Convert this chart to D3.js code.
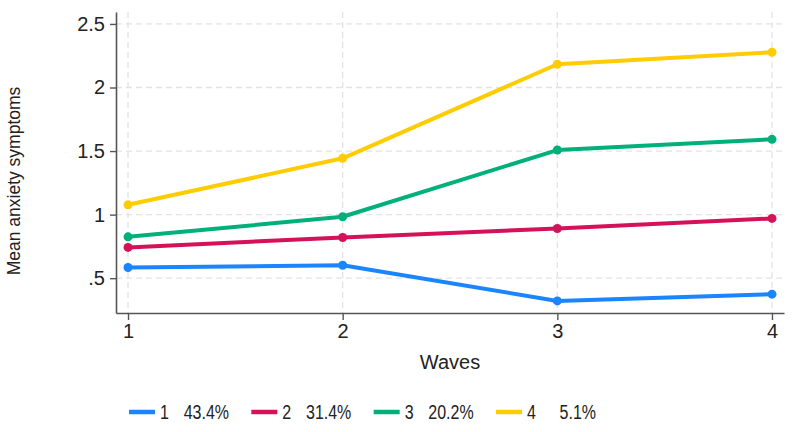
<!DOCTYPE html>
<html>
<head>
<meta charset="utf-8">
<script src="https://cdn.jsdelivr.net/npm/d3@7"></script>
<style>
  body { margin: 0; background: #fff; }
  text { font-family: Arial, "Liberation Sans", Helvetica, sans-serif; fill: #222; }
</style>
</head>
<body>
<svg id="chart"></svg>
<script>
var width = 794
var height = 432

// data
var waves = [1, 2, 3, 4]
var classNames = ["1", "2", "3", "4"]
var classShares = ["43.4%", "31.4%", "20.2%", "5.1%"]
var class1 = [0.584, 0.602, 0.321, 0.374]
var class2 = [0.742, 0.820, 0.891, 0.970]
var class3 = [0.825, 0.983, 1.508, 1.592]
var class4 = [1.077, 1.443, 2.183, 2.277]
var yTicks = [0.5, 1, 1.5, 2, 2.5]
var yTickLabels = [".5", "1", "1.5", "2", "2.5"]

var colors = ["#1a85ff", "#d41159", "#00b07a", "#ffcc00"]
var series = [class1, class2, class3, class4]

var svg = d3.select("#chart")
    .attr("width", width)
    .attr("height", height)

var x = d3.scaleLinear()
    .domain([0.944, 4.056])
    .range([116, 784])

var y = d3.scaleLinear()
    .domain([0.226, 2.594])
    .range([313, 12])

// grid
var grid = svg.append("g")
grid.selectAll(".hgrid")
    .data(yTicks)
    .enter()
    .append("line")
        .attr("x1", x.range()[0])
        .attr("x2", x.range()[1])
        .attr("y1", d => y(d))
        .attr("y2", d => y(d))
        .attr("stroke", "#e3e3e3")
        .attr("stroke-width", 1.3)
        .attr("stroke-dasharray", "6,4")
grid.selectAll(".vgrid")
    .data(waves)
    .enter()
    .append("line")
        .attr("x1", d => x(d))
        .attr("x2", d => x(d))
        .attr("y1", y.range()[1])
        .attr("y2", y.range()[0])
        .attr("stroke", "#e3e3e3")
        .attr("stroke-width", 1.3)
        .attr("stroke-dasharray", "6,4")

// axes
var yAxis = svg.append("g")
    .attr("transform", "translate(116,0)")
    .call(d3.axisLeft(y)
        .tickValues(yTicks)
        .tickFormat((d, i) => yTickLabels[i])
        .tickSize(6)
        .tickSizeOuter(0)
        .tickPadding(5))
var xAxis = svg.append("g")
    .attr("transform", "translate(0,313)")
    .call(d3.axisBottom(x)
        .tickValues(waves)
        .tickFormat(d3.format("d"))
        .tickSize(7)
        .tickSizeOuter(0)
        .tickPadding(4))

svg.selectAll(".domain").attr("stroke", "#555").attr("stroke-width", 1.6)
svg.selectAll(".tick line").attr("stroke", "#555").attr("stroke-width", 1.4)
svg.selectAll(".tick text")
    .style("font-size", "20px")
    .style("font-family", "Arial, 'Liberation Sans', sans-serif")
    .attr("fill", "#222")

// lines
var line = d3.line()
    .x((d, i) => x(waves[i]))
    .y(d => y(d))

series.forEach(function(s, k) {
    svg.append("path")
        .datum(s)
        .attr("fill", "none")
        .attr("stroke", colors[k])
        .attr("stroke-width", 4)
        .attr("stroke-linejoin", "round")
        .attr("d", line)
    svg.append("g")
        .selectAll("circle")
        .data(s)
        .enter()
        .append("circle")
            .attr("cx", (d, i) => x(waves[i]))
            .attr("cy", d => y(d))
            .attr("r", 4.5)
            .attr("fill", colors[k])
})

// axis titles
svg.append("text")
    .attr("x", 450)
    .attr("y", 369)
    .attr("text-anchor", "middle")
    .style("font-size", "20px")
    .text("Waves")

svg.append("text")
    .attr("transform", "translate(20,181) rotate(-90)")
    .attr("text-anchor", "middle")
    .style("font-size", "17.5px")
    .text("Mean anxiety symptoms")

// legend
var legendX = d3.scaleLinear().domain([0, 3]).range([129, 496])
var legend = svg.append("g")
    .selectAll("g")
    .data(classNames)
    .enter()
    .append("g")
        .attr("transform", (d, i) => "translate(" + legendX(i) + ",412)")
legend.append("line")
    .attr("x1", 0)
    .attr("x2", 26)
    .attr("stroke", (d, i) => colors[i])
    .attr("stroke-width", 4.5)
legend.append("text")
    .attr("transform", "translate(31,7) scale(0.82,1)")
    .style("font-size", "19.5px")
    .text(d => d)
// shares are right aligned in their column
legend.append("text")
    .attr("transform", "translate(100,7) scale(0.82,1)")
    .attr("text-anchor", "end")
    .style("font-size", "19.5px")
    .text((d, i) => classShares[i])
</script>
</body>
</html>
